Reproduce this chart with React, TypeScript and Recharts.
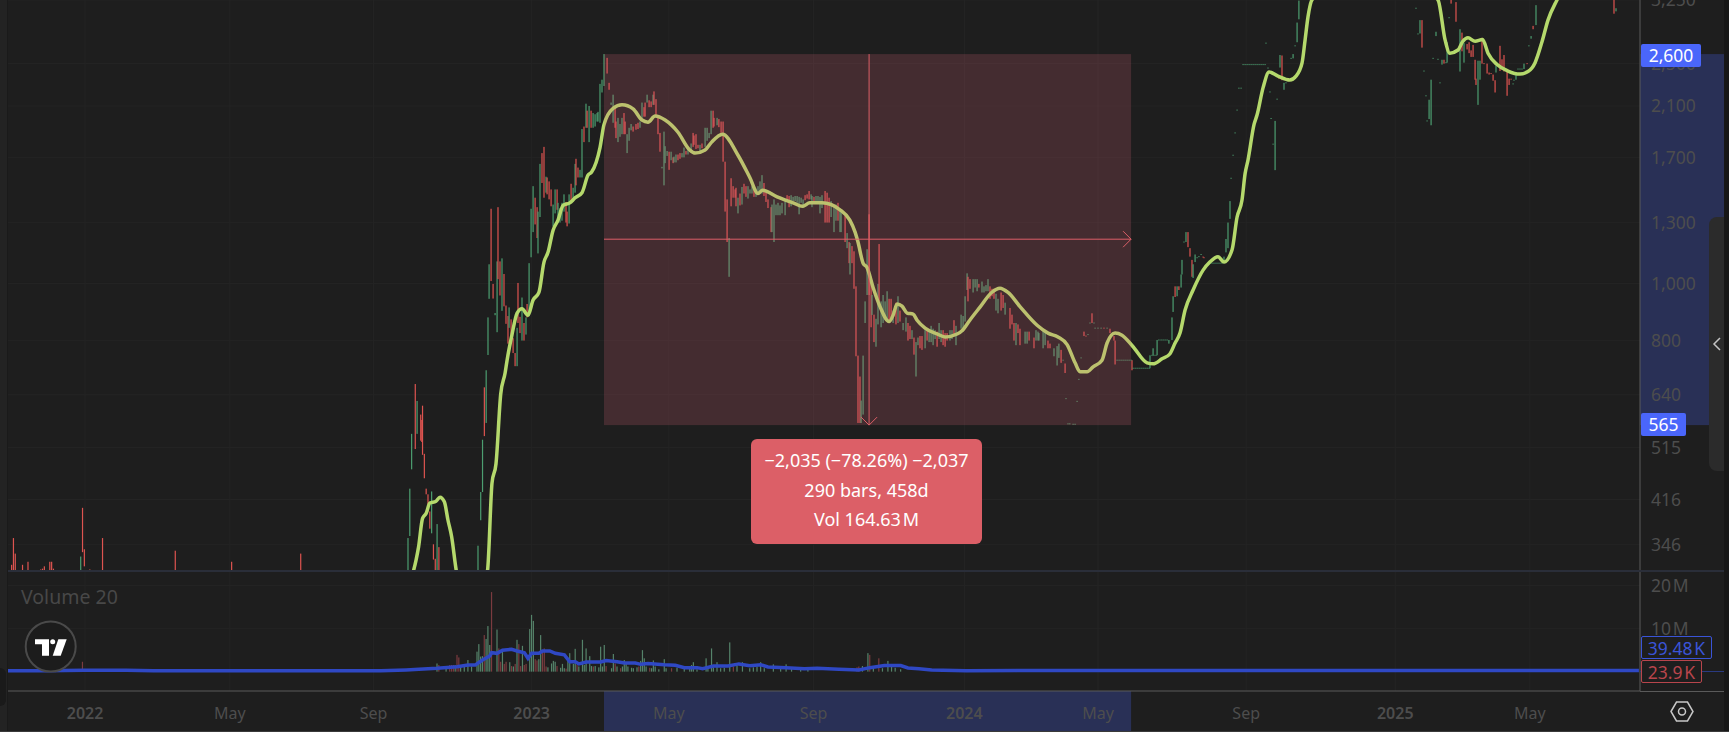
import React from "react";
import {
  ComposedChart, Bar, Line, XAxis, YAxis, CartesianGrid, ReferenceArea, ReferenceLine,
} from "recharts";

// [bar, low, high, up]
const earlyCandles = [
  [2,300,318,0],[3,300,355,0],[4,300,333,0],[8,300,318,0],[11,300,322,0],[18,300,312,0],[19,300,313,0],[20,300,316,0],[23,300,322,0],[24,300,322,0],[25,300,313,0],[40,300,329,1],[41,335,402,0],[42,316,339,0],[45,300,312,0],[52,300,355,0],[92,300,337,0],[123,300,322,0],[161,300,333,0],
  [220,300,355,1],[221,358,435,1],[222,471,545,1],[224,512,669,0],[225,545,624,1],[227,530,590,0],[227.6,527,577,0],[228,500,612,0],[229,454,502,0],[230,425,435,0],[231,396,425,0],[232,369,396,0],[233,362,430,1],[234,325,346,0],[235,310,326,0],[236,300,376,1],[237,300,342,0],
];
const riseCandles = [
  [258.5,300,344,1],[260,382,429,1],[261,429,532,1],[262,540,660,0],[263,570,708,1],[264,754,880,1],[264.6,950,1095,1],[265.7,1022,1376,0],[266.8,951,1010,0],[267.9,888,896,1],[269,828,1108,1],[269.5,1030,1385,0],[270.6,963,1108,0],[271.7,904,1122,1],[272.8,921,1052,0],[273.9,857,924,0],[275,790,885,0],[275.6,843,917,1],[276.7,791,873,0],[277.8,760,808,0],[278.9,720,760,0],[280,720,843,1],[280.5,860,1014,0],[281.6,825,882,0],[282.7,800,955,1],[283.8,800,860,0],[284.9,820,880,1],[285.5,880,930,0],[286.6,885,1100,1],[287.7,1127,1376,1],[288.8,1250,1510,1],[289.9,1290,1440,0],[291,1220,1385,0],[291.5,1145,1360,1],[292.6,1330,1655,1],[293.7,1530,1730,0],[294.8,1440,1775,0],[295.9,1470,1570,1],[296.5,1460,1565,0],[297.6,1430,1540,0],[298.7,1390,1490,0],[299.8,1280,1400,1],[300.9,1350,1490,1],[302,1370,1490,0],[302.5,1300,1410,1],[303.6,1300,1380,1],[304.7,1310,1410,1],[305.8,1360,1460,1],[306.9,1300,1415,0],[307.5,1280,1360,0],[308.6,1295,1460,1],[309.7,1415,1525,0],[310.8,1415,1500,1],[311.9,1470,1655,1],[312.4,1515,1690,0],[313.5,1565,1630,0],[314.6,1565,1615,1],[315.7,1565,1910,1],[316.8,1810,1930,0],[317.9,1920,2120,1],[318.5,1920,2060,0],[319.6,1810,2100,1],[320.7,1920,2060,0],[321.8,1920,2040,1],[322.9,1930,2030,1],[324,1970,2040,1],[324.5,1970,2050,1],[325.6,1960,2300,1],[326.7,2220,2340,1],[327.8,2280,2600,1],
];
const plateauCandles = [
  [329.5,2400,2560,0],[330.6,2245,2310,0],[331.7,2110,2130,1],[332.8,1960,2200,1],[333.9,1920,2080,0],[334.4,1840,1970,0],[335.5,1810,2000,1],[336.6,1850,1950,1],[337.7,1870,2000,1],[338.8,1870,2040,0],[339.4,1870,1970,0],[340.5,1730,1870,1],[341.6,1820,1920,1],
  [342.7,1900,1950,1],[343.8,1890,1930,0],[345.4,1905,1950,0],[346.5,1910,1960,0],[347.6,1920,1970,1],[348.7,1980,2130,1],[349.8,2010,2090,0],[350.4,2010,2130,0],[351.5,2130,2200,1],[352.6,2090,2150,0],[353.7,2090,2140,0],[354.8,2110,2200,1],[355.3,2110,2230,0],[356.4,2010,2160,0],[357.5,1870,2020,0],[358.6,1740,1880,0],[359.7,1625,1635,1],[360.8,1515,1890,1],[361.4,1660,1780,1],[362.5,1710,1745,1],[363.6,1615,1740,0],[364.7,1680,1740,1],[365.8,1660,1700,0],[366.3,1665,1705,1],[367.4,1665,1720,1],[368.5,1680,1720,0],[369.6,1690,1730,0],[370.7,1700,1730,1],[371.8,1700,1770,1],[372.9,1720,1745,0],[374,1720,1775,1],[375.7,1745,1800,1],[376.8,1775,1880,0],[377.3,1790,1860,0],[378.4,1760,1870,0],[379.5,1765,1790,0],[380.6,1745,1790,1],[381.7,1765,1800,0],[383.4,1775,1920,1],[384.5,1820,1920,1],[385.6,1840,1880,1],[386.7,1870,2060,1],[387.8,1920,2060,0],[388.3,1930,2000,0],[390,1940,2000,1],[391,1925,1990,0],[392.2,1880,1970,0],[393.3,1670,1970,0],[394.4,1360,1670,0],[395.5,1200,1430,0],[396.6,1040,1220,1],
  [397.7,1390,1560,0],[398.8,1440,1510,0],[399.9,1440,1490,0],[400.4,1390,1500,0],[401.5,1350,1440,1],[402.6,1395,1465,0],[403.7,1400,1505,1],[404.8,1465,1525,0],[405.9,1445,1510,0],[407,1435,1510,1],[408.1,1465,1490,1],[409.2,1465,1510,1],[410.3,1445,1500,0],[411.4,1445,1495,1],[412.5,1470,1510,1],[413.6,1465,1540,1],[414.7,1465,1580,1],[415.8,1450,1530,0],[416.9,1415,1470,0],[418,1380,1430,0],[419.7,1250,1385,0],[420.2,1250,1400,1],[421.3,1200,1430,1],[422.4,1340,1400,1],[423.5,1340,1410,1],[424.6,1340,1395,1],[425.7,1350,1410,1],[427.4,1340,1420,1],[428.5,1420,1455,0],[429.6,1385,1450,0],[430.7,1390,1455,1],[431.8,1420,1445,1],[432.9,1420,1450,1],[434,1410,1450,1],[435.1,1345,1445,1],[436.2,1410,1440,1],[437.3,1380,1430,1],[438.4,1425,1455,0],[439.5,1435,1460,0],[440.6,1430,1480,0],[441.7,1430,1460,1],[442.2,1385,1450,1],[443.3,1420,1445,0],[444.4,1420,1450,1],[445.5,1410,1450,1],[446.6,1350,1445,1],[447.7,1380,1455,1],[449.4,1300,1480,0],[450.5,1300,1470,0],[451.6,1300,1440,0],[452.7,1330,1420,1],[454.3,1250,1400,1],[455.4,1310,1400,1],[456.5,1310,1410,0],[457.6,1250,1370,1],[458.2,1250,1370,1],
];
const crashCandles = [
  [460.4,1200,1340,0],[461.5,1170,1245,1],[462.6,1100,1200,0],[463.1,1050,1195,1],[464.2,1100,1180,0],[465.3,990,1155,0],[466.4,750,1000,0],[467.5,570,752,0],[468.6,570,690,0],[469.2,570,625,1],[470.3,590,752,1],[471.4,860,940,1],[472.5,965,1165,1],[473.6,965,1345,0],[474.7,845,1040,0],[475.2,889,965,1],[476.3,795,890,0],[477.4,780,875,1],[478.5,855,1010,1],[479.1,940,1190,0],[480.2,845,940,1],[481.3,860,965,1],[482.4,870,940,1],[483.5,875,980,1],[484.6,860,950,0],[485.7,880,950,0],[486.8,860,905,1],[488.4,855,935,0],[489.5,860,960,1],[490.6,865,905,0],[492.3,835,860,1],[493.9,830,880,1],[495,800,860,0],[496.1,805,850,0],[497.2,805,835,1],[498.3,755,810,0],[499.4,690,795,1],[500.5,785,810,1],[501.6,775,815,0],[502.7,770,815,0],[504.4,775,835,1],[505.5,800,840,0],[506.6,795,830,1],[507.7,795,850,1],[508.8,785,840,1],[509.9,805,835,1],[511,780,830,0],[512.1,805,860,1],[513.2,795,835,1],[514.3,785,835,0],[515.4,780,825,0],[516.5,800,825,0],[518.1,800,835,1],[519.2,805,835,1],[520.3,815,870,0],[521.4,785,850,1],[524.2,840,890,1],[525.3,830,885,1],[526.4,865,960,1],[527.5,985,1055,1],[528,940,1040,0],[529.1,990,1030,0],[530.8,975,1030,1],[531.9,995,1030,1],[533,980,1030,1],[534,995,1010,0],[535.7,975,1020,1],[536.8,975,1000,1],[537.9,980,1005,1],[539,980,1030,1],[540.1,950,1000,0],[541.2,960,990,0],[542.3,950,990,0],[543.4,905,970,1],[544.5,895,950,1],[546.2,905,975,0],[547.3,915,965,0],[548.4,890,935,1],[551.1,840,915,0],[552.2,855,890,0],[553.3,800,860,0],[554.4,785,860,1],[555.5,825,855,0],[556.6,785,840,0],[559.4,790,830,1],[560.5,790,830,1],[561.6,800,830,0],[564.3,775,810,0],[565.4,800,835,1],[566.5,800,830,1],[567,800,825,1],[569.3,775,840,1],[570.4,785,830,1],[572,775,800,0],[573.1,775,790,0],[575.3,750,775,1],[577,722,782,1],[578,745,790,1],[579.2,730,770,0],[581.4,700,728,0],
  [591.8,815,830,0],[596.2,860,895,0],[606.1,825,840,0],[608.3,800,815,0],[608.9,725,800,0],[618.2,708,738,0],
];
const reboundCandles = [
  [628.1,714,753,1],[629.8,753,775,1],[632,753,802,1],[638.5,790,802,1],[640.2,802,880,1],[640.8,900,960,1],[641.9,957,1000,0],[643,960,1000,1],[644,985,1000,0],[645.2,995,1050,1],[645.7,1050,1115,1],[647.9,1200,1250,1],[649,1175,1250,0],[650.1,1130,1170,0],[651.2,1040,1115,0],[651.8,1035,1095,1],[652.9,1105,1140,1],[668.8,1100,1130,1],[669.9,1150,1215,1],[671,1170,1300,1],[672.1,1320,1420,1],[696.9,1613,1975,1],[699,2350,2380,0],[699.6,2460,2590,1],[700.7,2335,2585,0],[701.8,2245,2310,1],[706.8,2555,2600,1],[709,2730,2960,1],[710,3000,3240,1],
  [776.6,2830,2990,1],[777.7,2670,2990,0],[781.6,1990,2155,1],[782.7,1940,2340,1],[785.4,2800,2850,1],[788.7,2490,2540,1],[789.8,2500,2540,0],[791.5,2510,2730,1],[793.7,3200,3250,0],[796.4,2970,3220,0],[798.6,2420,2880,1],[799.7,2630,2840,0],[800.8,2510,2720,1],[802.5,2650,2710,0],[803.6,2610,2730,0],[804.7,2570,2640,0],[805.8,2570,2700,0],[806.9,2340,2540,0],[807.4,2290,2350,0],[808.5,2110,2530,1],[809.6,2340,2530,1],[810.7,2500,2780,0],[813.5,2400,2500,0],[814.6,2390,2410,0],[816.8,2330,2390,0],[817.9,2220,2335,0],[818.4,2410,2480,1],[820.6,2425,2690,0],[821.7,2440,2545,0],[822.8,2420,2590,0],[824.5,2190,2420,0],[825.6,2290,2350,0],[829.4,2340,2390,1],[833.8,2445,2500,1],[837.7,2770,2800,1],[838.8,2880,2920,0],[840.4,2930,3180,1],[883.3,3070,3250,0],[884.4,3100,3140,1],
];
// [bar, price, up]: bars with no range (open = high = low = close)
const flatBars = [
  [580.3,738,1],[581.9,630,1],[583,568,1],[584,568,1],[585.8,567,1],[586.9,567,1],[588,623,1],[589,682,1],[590.2,745,1],[592.9,815,0],[594,820,1],[595.1,860,1],[597.3,860,1],[597.9,842,1],[599.5,842,1],[601.2,842,1],[602.8,842,0],[604.5,842,1],
  [610,738,1],[611.1,738,1],[612.2,738,1],[613.3,738,1],[614.4,738,1],[615.5,738,1],[616.6,738,1],[617.7,738,1],
  [618.8,714,1],[619.9,714,1],[621,714,1],[622.1,714,1],[623.2,714,1],[624.3,714,1],[625.4,714,1],[626.5,714,1],[627.6,714,1],
  [629.2,753,1],[630.3,753,1],[631.4,753,1],[633,802,1],[634.2,802,1],[635.3,802,1],[636.4,802,1],[637.5,802,1],
  [646.8,1200,1],[654,1125,1],[655,1130,1],[656.2,1140,1],[657.3,1128,0],[657.8,1125,0],
  [660,1100,1],[661.1,1100,1],[662.2,1100,1],[663.3,1100,1],[664.4,1100,1],[665.5,1100,1],[666.6,1100,1],[667.7,1100,1],
  [672.7,1560,1],[673.8,1715,1],[674.9,1880,1],[676,2065,1],[677,2260,1],[678.2,2260,1],
  [679.3,2490,1],[680.4,2490,1],[681.5,2490,1],[682.6,2490,1],[683.7,2490,1],[684.8,2490,1],[685.9,2490,1],[687,2490,1],[688.1,2490,1],[689.2,2490,1],[690.3,2490,1],[691.4,2490,1],
  [691.9,2720,1],[693,2455,1],[694.1,2225,1],[694.7,1995,1],[695.8,1795,1],[698,2160,1],[702.9,2310,1],[704,2340,1],[705.7,2555,1],[707.9,2690,1],
  [774.4,3140,1],[775.5,2825,1],[778.8,2425,1],[779.9,2190,1],[780.5,1975,1],[783.8,2555,1],[786.5,2545,1],[787.6,2310,1],[790.9,2510,1],[792.6,3020,1],[811.8,2500,0],[815.7,2400,0],[826.7,2345,0],[827.8,2300,1],[828.3,2335,1],[830.5,2445,1],[831.6,2445,1],[832.7,2445,1],[835.5,2500,0],[836.5,2690,1],
];
// [bar, price]
const maPoints = [
  [223,310],[224.4,324],[225.8,342],[228,385],[230,393],[232,410],[235.4,413],[237.6,420],[240,412],[242,382],[244,357],[246.6,310],[255,260],[263.7,310],[266.2,445],[268.4,482],[271,642],[273.4,700],[274.5,738],[277.2,820],[280,896],[282.7,912],[286,888],[288.8,945],[292,975],[294.8,1105],[297,1150],[299.8,1260],[302.5,1313],[305.3,1395],[309,1410],[312,1440],[315.7,1470],[319,1580],[321,1600],[325.6,1770],[327.8,1945],[332.8,2080],[337.7,2110],[343.8,2075],[348.7,1982],[352,1965],[355.9,2015],[361.4,1982],[368.5,1885],[375,1752],[377.9,1730],[383.4,1752],[387,1810],[393,1870],[401.5,1715],[408,1565],[412.5,1465],[415,1485],[423,1445],[431.8,1410],[437,1390],[441,1410],[447.7,1410],[457.6,1370],[463,1313],[465.9,1250],[467.5,1200],[470.3,1100],[472.5,1080],[475.8,995],[479.6,920],[484.6,865],[486.8,888],[489,930],[491.7,922],[494.5,896],[497.8,892],[500,870],[504.4,842],[511,822],[515.4,812],[522,822],[525,835],[529,870],[534.6,918],[541,975],[545.6,992],[550,975],[556.6,920],[566,852],[572,825],[577.5,812],[582.5,787],[586.9,730],[589.6,704],[593.5,704],[596.8,718],[601.7,738],[604.5,792],[608.9,825],[612.7,818],[618.8,780],[626.5,730],[629.8,727],[634.7,742],[639,757],[641.9,792],[644.6,825],[647.4,907],[651.8,985],[657.3,1069],[661,1105],[665.5,1130],[668.8,1105],[673.2,1161],[676,1330],[678.7,1426],[680.4,1590],[682,1681],[685.3,1945],[687,2025],[690.3,2265],[693.6,2415],[698.5,2375],[705,2337],[708.4,2375],[711.7,2505],[713.4,2756],[715,3030],[717.2,3250],[750,3900],[786.5,3250],[790.4,2756],[793,2610],[797.5,2644],[800,2735],[803,2780],[806.9,2740],[811,2760],[814,2610],[819,2490],[825,2425],[831.6,2395],[836,2420],[839.9,2510],[843.7,2735],[847,2990],[852,3250],[860,3600],[875,4000],
];
// [bar, volume in millions, up]
const volumeBars = [
  [41,2.3,0],[42,0.5,1],[92,0.4,0],[236,1.9,1],[237,1.55,0],[241,1.3,1],[243,1.55,0],[244,1.55,0],[245,1.55,0],[246,1.5,1],[247,3.9,0],[248,3.3,0],[249,1.2,1],[251,1.55,1],[253,2.7,1],[255,1.2,1],[258,4.65,1],[259,6.4,1],[260,3.5,1],[261,3.6,1],[262,8.5,0],[263,7.6,1],[264,10.6,1],[265,6.2,1],[266,18.5,0],[269,9.8,1],[270,5.4,0],[271,2.3,0],[272,4.65,1],[273,1.8,0],[274,2.3,0],[276,2.2,1],[277,1.3,0],[278,1.2,1],[279,1.8,0],[280,7.4,1],[281,6.4,0],[282,1.3,0],[283,6,1],[284,1.55,0],[285,1.8,0],[287,9.9,1],[288,13.2,1],[289,11.8,1],[290,2.9,0],[291,2.6,0],[292,2.9,1],[293,8.5,1],[294,4.4,0],[295,5.4,0],[296,1.2,0],[297,1,1],[299,1.9,1],[300,2.5,1],[301,2.3,1],[302,1.3,0],[304,0.9,1],[305,1.8,1],[306,0.8,1],[307,0.7,0],[308,2.7,1],[309,4.3,1],[311,1.8,1],[312,5.3,1],[313,1.55,0],[314,1.2,1],[316,7.4,1],[317,1.55,1],[318,5.4,1],[320,3.6,1],[321,1.3,1],[322,1.2,0],[323,1.3,1],[325,1,1],[326,5.8,1],[327,1.2,1],[328,6.2,1],[329,1.3,0],[332,0.8,1],[333,4.1,1],[334,1.9,0],[335,1.2,1],[337,0.8,0],[338,1.2,1],[339,2.7,1],[340,1.9,1],[341,1.2,1],[343,0.9,1],[344,0.8,1],[346,1,1],[347,1.2,0],[348,2.5,1],[349,5,1],[350,3.1,1],[351,1.2,1],[353,0.9,0],[354,0.8,1],[355,2.6,1],[356,1.2,1],[358,0.55,1],[361,2.9,1],[362,0.8,1],[365,0.8,0],[368,0.9,1],[372,0.6,1],[375,1.2,1],[376,1.55,1],[377,2.2,1],[379,0.55,1],[384,3.1,1],[385,1.2,1],[387,5.4,1],[388,1,1],[390,2.2,1],[392,0.8,1],[394,0.9,1],[397,6.8,1],[399,1.2,0],[401,1.4,1],[404,2.2,1],[408,0.8,1],[410,1,1],[412,1.2,1],[414,2.2,1],[416,0.8,1],[421,1.7,1],[425,0.7,1],[428,1.7,1],[431,0.8,1],[436,0.55,1],[440,0.6,1],[467,1,0],[468,1.2,0],[470,1.3,1],[473,4.3,1],[474,3.9,0],[476,0.8,1],[479,3.1,0],[481,0.8,1],[484,2.5,1],[486,1.2,1],[488,0.9,1],[491,0.55,1],
];
// [bar, volume in millions]
const volumeMa = [
  [0,0.2],[20,0.22],[42,0.3],[65,0.35],[80,0.22],[130,0.22],[205,0.23],[219,0.4],[226,0.55],[236,0.78],[247,1.16],[253,1.55],[257,1.55],[261,2.7],[265,3.65],[266,4.4],[269,4.26],[272,5],[277,5.2],[280,4.8],[284,4.4],[286,3.1],[288,4.26],[292,4.26],[294,4.8],[298,4.8],[301,4.26],[306,3.9],[309,2.3],[312,2.3],[314,1.8],[318,2.25],[326,2.25],[329,2.6],[335,2.3],[339,2],[345,2],[348,1.7],[352,1.9],[361,1.6],[367,1.5],[372,0.93],[379,0.93],[382,0.7],[388,1.3],[396,1.3],[402,1.8],[408,1.4],[414,1.6],[418,1.1],[428,0.93],[438,0.7],[445,0.78],[457,0.55],[468,0.4],[474,0.93],[482,1.4],[491,1.4],[495,0.85],[501,0.7],[508,0.4],[527,0.23],[600,0.25],[700,0.28],[820,0.28],[897,0.25],
];
const priceTicks = [3250, 2500, 2100, 1700, 1300, 1012, 800, 640, 515, 416, 346];
const priceLabels = ["3,250", "2,500", "2,100", "1,700", "1,300", "1,000", "800", "640", "515", "416", "346"];
const volumeTicks = [10, 20];
const timeTicks = [42.4, 122, 201, 288, 363.5, 443, 526, 599.5, 681, 763, 837];
const timeLabels = ["2022", "May", "Sep", "2023", "May", "Sep", "2024", "May", "Sep", "2025", "May"];
const tooltipLines = ["\u22122,035 (\u221278.26%) \u22122,037", "290 bars, 458d", "Vol 164.63\u200aM"];

const measure = { fromBar: 327.8, toBar: 617.7, top: 2600, bottom: 565, crossBar: 473.6, crossPrice: 1214 };

const BG = "#1e1e1e";
const UP = "#4c9e70";
const DOWN = "#de5450";
const VOL_UP = "#55836a";
const VOL_DOWN = "#7b3b3f";
const MA = "#b5d96c";
const VOLMA = "#2f48c4";
const AXIS_TEXT = "#4d4d4d";
const GRID = "#242424";
const FONT = "'Noto Sans', sans-serif";
const W = 1729;
const AXIS_W = 89;
const PLOT_R = W - AXIS_W;
const MAX_BAR = 897.6;

const candleRows = [...earlyCandles, ...riseCandles, ...plateauCandles, ...crashCandles, ...reboundCandles]
  .map(([bar, low, high, up]) => ({ bar, range: [low, high], up }))
  .concat(flatBars.map(([bar, p, up]) => ({ bar, range: [p * 0.998, p * 1.002], up })));
const maRows = maPoints.map(([bar, ma]) => ({ bar, ma }));
const volumeRows = volumeBars.map(([bar, vol, up]) => ({ bar, vol, up }));
const volumeMaRows = volumeMa.map(([bar, vma]) => ({ bar, vma }));

const CandleShape = (p: any) => {
  const top = Math.min(p.y, p.y + p.height);
  const h = Math.max(1, Math.abs(p.height));
  return <rect x={p.x + p.width / 2 - 0.6} y={top} width={1.2} height={h} fill={p.payload.up ? UP : DOWN} />;
};
const VolumeShape = (p: any) => (
  <rect x={p.x + p.width / 2 - 0.6} y={p.y} width={1.2} height={Math.max(0, p.height)} fill={p.payload.up ? VOL_UP : VOL_DOWN} />
);
const MeasureShape = (p: any) => (
  <rect x={p.x} y={p.y} width={p.width} height={p.height} fill="rgb(220,100,120)" fillOpacity={0.2} />
);
const AxisBandShape = (p: any) => (
  <rect x={PLOT_R} y={p.y} width={W - 5 - PLOT_R} height={p.height} fill="rgb(74,102,254)" fillOpacity={0.25} />
);
const TimeBandShape = (p: any) => (
  <rect x={p.x} y={p.y + p.height} width={p.width} height={41} fill="rgb(74,102,254)" fillOpacity={0.25} />
);
const ArrowH = (p: any) => (
  <g stroke="#dc5f67" strokeWidth={1} fill="none">
    <line x1={p.x1} y1={p.y1} x2={p.x2} y2={p.y2} />
    <polyline points={`${p.x2 - 8},${p.y2 - 8} ${p.x2},${p.y2} ${p.x2 - 8},${p.y2 + 8}`} />
  </g>
);
const ArrowV = (p: any) => (
  <g stroke="#dc5f67" strokeWidth={1} fill="none">
    <line x1={p.x1} y1={p.y1} x2={p.x2} y2={p.y2} />
    <polyline points={`${p.x2 - 8},${p.y2 - 8} ${p.x2},${p.y2} ${p.x2 + 8},${p.y2 - 8}`} />
  </g>
);
const TimeTick = (p: any) => {
  const i = timeTicks.indexOf(p.payload.value);
  const label = timeLabels[i];
  return (
    <text x={p.x} y={p.y + 20} textAnchor="middle" fontSize={16} fontFamily={FONT}
      fontWeight={/^\d+$/.test(label) ? 600 : 400} fill={AXIS_TEXT}>{label}</text>
  );
};

const box = (s: React.CSSProperties): React.CSSProperties => ({ position: "absolute", boxSizing: "border-box", ...s });
const Badge = ({ y, x = 1641, w, text, color, outline }: any) => (
  <div style={box({ left: x, top: y, width: w, height: 23, lineHeight: "22px", borderRadius: 2, textAlign: "center",
    fontSize: 17.5, color: outline ? color : "#fff", background: outline ? BG : color,
    border: outline ? `1px solid ${color}` : "none" })}>{text}</div>
);

export default function App() {
  return (
    <div style={{ position: "fixed", left: 0, top: 0, width: W, height: 732, background: BG, fontFamily: FONT, overflow: "hidden" }}>
      <div style={box({ left: 0, top: 0 })}>
        <ComposedChart width={W} height={571} data={candleRows} margin={{ top: 0, right: 0, bottom: 0, left: 8 }}>
          <CartesianGrid stroke={GRID} horizontalValues={priceTicks} verticalValues={timeTicks} />
          <XAxis type="number" dataKey="bar" domain={[0, MAX_BAR]} hide allowDataOverflow ticks={timeTicks} />
          <YAxis orientation="right" width={AXIS_W} scale="log" type="number" domain={[310, 3248]} allowDataOverflow
            ticks={priceTicks} interval={0} tickSize={0} tickMargin={11} tickLine={false}
            axisLine={{ stroke: "#5a5a5a" }} tick={{ fill: AXIS_TEXT, fontSize: 17.5 }}
            tickFormatter={(v: number) => priceLabels[priceTicks.indexOf(v)]} />
          <ReferenceArea x1={measure.fromBar} x2={measure.toBar} y1={measure.top} y2={measure.bottom} ifOverflow="visible"
            shape={AxisBandShape} />
          <Bar dataKey="range" barSize={2} isAnimationActive={false} shape={CandleShape} />
          <Line data={maRows} dataKey="ma" type="monotone" stroke={MA} strokeWidth={3.5} dot={false} isAnimationActive={false} />
        </ComposedChart>
      </div>
      <div style={box({ left: 0, top: 0 })}>
        <ComposedChart width={W} height={571} data={maRows} margin={{ top: 0, right: 89, bottom: 0, left: 8 }}>
          <XAxis type="number" dataKey="bar" domain={[0, MAX_BAR]} hide allowDataOverflow />
          <YAxis hide scale="log" type="number" domain={[310, 3248]} allowDataOverflow />
          <ReferenceArea x1={measure.fromBar} x2={measure.toBar} y1={measure.top} y2={measure.bottom} ifOverflow="visible"
            shape={MeasureShape} />
          <ReferenceLine ifOverflow="visible" shape={ArrowH}
            segment={[{ x: measure.fromBar, y: measure.crossPrice }, { x: measure.toBar, y: measure.crossPrice }]} />
          <ReferenceLine ifOverflow="visible" shape={ArrowV}
            segment={[{ x: measure.crossBar, y: measure.top }, { x: measure.crossBar, y: measure.bottom }]} />
        </ComposedChart>
      </div>
      <div style={box({ left: 0, top: 571 })}>
        <ComposedChart width={W} height={161} data={volumeRows} margin={{ top: 0, right: 0, bottom: 0, left: 8 }}>
          <CartesianGrid stroke={GRID} horizontalValues={volumeTicks} verticalValues={timeTicks} />
          <XAxis type="number" dataKey="bar" domain={[0, MAX_BAR]} allowDataOverflow ticks={timeTicks} interval={0} height={41}
            tickLine={false} axisLine={{ stroke: "#5a5a5a" }} tick={TimeTick} />
          <YAxis orientation="right" width={AXIS_W} type="number" domain={[-4.5, 23.4]} allowDataOverflow
            ticks={volumeTicks} interval={0} tickSize={0} tickMargin={11} tickLine={false}
            axisLine={{ stroke: "#5a5a5a" }} tick={{ fill: AXIS_TEXT, fontSize: 17.5 }}
            tickFormatter={(v: number) => `${v}\u200aM`} />
          <ReferenceArea x1={measure.fromBar} x2={measure.toBar} ifOverflow="visible" shape={TimeBandShape} />
          <Bar dataKey="vol" barSize={2} isAnimationActive={false} shape={VolumeShape} />
          <Line data={volumeMaRows} dataKey="vma" type="linear" stroke={VOLMA} strokeWidth={3.5} dot={false} isAnimationActive={false} />
        </ComposedChart>
      </div>

      <div style={box({ left: 0, top: 0, width: 8, height: 732, background: "#232323", borderRight: "1px solid #1a1a1a" })} />
      <div style={box({ left: 0, top: 668, width: 6, height: 38, background: "#1a1a1a", borderRadius: "0 6px 6px 0" })} />
      <div style={box({ left: 8, top: 570, width: 1716, height: 2, background: "#2a2e39" })} />
      <div style={box({ left: PLOT_R, top: 691, width: 84, height: 1, background: "#5a5a5a" })} />
      <div style={box({ left: PLOT_R, top: 671, width: 84, height: 1, background: "#2a3a80" })} />
      <div style={box({ left: 1724, top: 0, width: 5, height: 732, background: "#171717" })} />
      <div style={box({ left: 0, top: 731, width: W, height: 1, background: "#3a3a3a" })} />

      <div style={box({ left: 1709, top: 217, width: 15, height: 254, background: "#2b2b2b", borderRadius: "8px 0 0 8px" })} />

      <div style={box({ left: 21, top: 583, fontSize: 19.5, lineHeight: "28px", color: "#484848" })}>Volume 20</div>

      <div style={box({ left: 751, top: 439, width: 231, height: 105, borderRadius: 6, background: "#dc5f67", color: "#fff",
        fontSize: 18, textAlign: "center", paddingTop: 7, lineHeight: "29.5px" })}>
        {tooltipLines.map((t) => <div key={t}>{t}</div>)}
      </div>

      <Badge y={44} w={60} text="2,600" color="#4a66fb" />
      <Badge y={413} w={45} text="565" color="#4a66fb" />
      <Badge y={636} w={71} text={"39.48\u200aK"} color="#3a54d8" outline />
      <Badge y={660} w={61} text={"23.9\u200aK"} color="#b8454c" outline />

      <svg width={W} height={732} style={box({ left: 0, top: 0, pointerEvents: "none" })}>
        <circle cx={50.7} cy={646.5} r={25} fill="#1c1c1c" stroke="#4a4a4a" strokeWidth={2} />
        <path d="M35 639.3H49V655.7H42V644.3H35Z" fill="#fff" />
        <circle cx={52.7} cy={641.7} r={2.5} fill="#fff" />
        <path d="M58.3 639.3H66.7L60.7 655.7H52.7Z" fill="#fff" />
        <polyline points="1720,338 1714,344 1720,350" fill="none" stroke="#c4c4c4" strokeWidth={1.5} />
        <path d="M1671 711.5L1676.5 702H1687.5L1693 711.5L1687.5 721H1676.5Z" fill="none" stroke="#c8c8c8" strokeWidth={1.5} />
        <circle cx={1682} cy={711.5} r={3.5} fill="none" stroke="#c8c8c8" strokeWidth={1.5} />
      </svg>
    </div>
  );
}
